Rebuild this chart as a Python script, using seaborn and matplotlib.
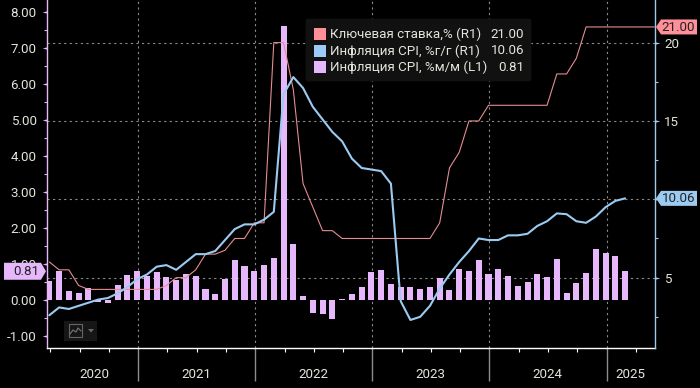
import numpy as np
import pandas as pd
import seaborn as sns
import matplotlib
matplotlib.use("Agg")
import matplotlib.pyplot as plt
from matplotlib.patches import Polygon, Rectangle, FancyBboxPatch
from matplotlib.lines import Line2D

# Monthly data, Mar 2020 - Feb 2025 (key rate is held forward to the axis edge)
cpi_mom = [0.55, 0.83, 0.27, 0.22, 0.35, -0.04, -0.07, 0.43, 0.71, 0.83,
           0.67, 0.78, 0.66, 0.58, 0.74, 0.69, 0.31, 0.17, 0.60, 1.11, 0.96, 0.82,
           0.99, 1.17, 7.61, 1.56, 0.12, -0.35, -0.39, -0.52, 0.05, 0.18, 0.37, 0.78,
           0.84, 0.46, 0.37, 0.38, 0.31, 0.37, 0.63, 0.28, 0.87, 0.83, 1.11, 0.73,
           0.86, 0.68, 0.39, 0.50, 0.74, 0.64, 1.14, 0.20, 0.48, 0.75, 1.43, 1.32,
           1.23, 0.81]
cpi_yoy = [2.6, 3.1, 3.0, 3.2, 3.4, 3.6, 3.7, 4.0, 4.4, 4.9,
           5.2, 5.7, 5.8, 5.5, 6.0, 6.5, 6.5, 6.7, 7.4, 8.1, 8.4, 8.4,
           8.7, 9.2, 16.7, 17.8, 17.1, 15.9, 15.1, 14.3, 13.7, 12.6, 12.0, 11.9,
           11.8, 11.0, 3.5, 2.3, 2.5, 3.2, 4.3, 5.2, 6.0, 6.7, 7.5, 7.4,
           7.4, 7.7, 7.7, 7.8, 8.3, 8.6, 9.1, 9.05, 8.6, 8.5, 8.9, 9.5,
           9.9, 10.06]
key_rate = [6.0, 5.5, 5.5, 4.5, 4.25, 4.25, 4.25, 4.25, 4.25, 4.25,
            4.25, 4.25, 4.5, 5.0, 5.0, 5.5, 6.5, 6.5, 6.75, 7.5, 7.5, 8.5,
            8.5, 20.0, 20.0, 17.0, 11.0, 9.5, 8.0, 8.0, 7.5, 7.5, 7.5, 7.5,
            7.5, 7.5, 7.5, 7.5, 7.5, 7.5, 8.5, 12.0, 13.0, 15.0, 15.0, 16.0,
            16.0, 16.0, 16.0, 16.0, 16.0, 16.0, 18.0, 18.0, 19.0, 21.0, 21.0, 21.0,
            21.0, 21.0, 21.0, 21.0, 21.0]
year_labels = ["2020", "2021", "2022", "2023", "2024", "2025"]
year_label_px = [94, 196, 313, 430, 547, 630]
legend_names = ["Ключевая ставка,% (R1)", "Инфляция CPI, %г/г (R1)", "Инфляция CPI, %м/м (L1)"]
left_ticks = [-1, 0, 1, 2, 3, 4, 5, 6, 7, 8]
right_ticks = [5, 10, 15, 20]
right_labels = ["5", "", "15", "20"]

C_BAR = "#E6B8FB"
C_BLUE = "#9CCBF2"
C_RED = "#E58C92"
C_TXT = "#E4E4DC"
FS = 9.6

sns.set_theme(style="dark", rc={"figure.facecolor": "black", "axes.facecolor": "black",
                                "savefig.facecolor": "black"})
plt.rcParams["font.family"] = ["Roboto", "DejaVu Sans"]

W, H = 700, 388
fig = plt.figure(figsize=(W / 100, H / 100), dpi=100)
rect = [47 / W, (H - 348) / H, 607.7 / W, 348 / H]
XLIM = (-0.24, 62.03)
LEFT_LIM = (-1.32, 8.34)
RIGHT_LIM = (0.51, 22.72)

ax_g = fig.add_axes(rect, zorder=1)
ax = fig.add_axes(rect, zorder=2)
ax2 = fig.add_axes(rect, zorder=3)
ax.patch.set_visible(False)
ax2.patch.set_visible(False)

idx_bar = np.arange(len(cpi_mom))
idx_rate = np.arange(len(key_rate))
df_bar = pd.DataFrame({"i": idx_bar, "v": cpi_mom})
df_yoy = pd.DataFrame({"i": idx_bar, "v": cpi_yoy})
df_rate = pd.DataFrame({"i": idx_rate, "v": key_rate})

sns.barplot(data=df_bar, x="i", y="v", native_scale=True, width=0.62, color=C_BAR,
            saturation=1, linewidth=0, ax=ax)
sns.lineplot(data=df_rate, x="i", y="v", color=C_RED, lw=0.8, ax=ax2, errorbar=None)
sns.lineplot(data=df_yoy, x="i", y="v", color=C_BLUE, lw=1.5, ax=ax2, errorbar=None)

sep_ticks = [9.1, 21.1, 33.1, 45.1, 57.1]
quarter_ticks = [t + 0.1 for t in range(0, 61, 3)]

# background grid
ax_g.set_xlim(XLIM)
ax_g.set_ylim(RIGHT_LIM)
ax_g.set_xticks(sep_ticks)
ax_g.set_yticks(right_ticks)
ax_g.grid(True, color="#8a8a8a", lw=0.8, ls=(0, (2, 3)))
ax_g.tick_params(left=False, bottom=False, labelleft=False, labelbottom=False)
for s in ax_g.spines.values():
    s.set_visible(False)

# left axis
ax.set_xlim(XLIM)
ax.set_ylim(LEFT_LIM)
ax.set_xlabel("")
ax.set_ylabel("")
ax.grid(False)
ax.set_yticks(left_ticks)
ax.set_yticklabels([f"{v:.2f}" for v in left_ticks], color=C_TXT, fontsize=FS)
ax.set_yticks(np.arange(-0.5, 8.5, 1.0), minor=True)
ax.tick_params(axis="y", which="major", left=True, length=0, pad=7.5)
ax.tick_params(axis="y", which="minor", left=True, length=2.5, width=0.8, color=C_BAR)
ax.set_xticks(sep_ticks)
ax.set_xticklabels([""] * len(sep_ticks))
ax.set_xticks(quarter_ticks, minor=True)
ax.tick_params(axis="x", which="major", bottom=True, length=24, width=1, color="#8c8c8c")
ax.tick_params(axis="x", which="minor", bottom=True, length=3, width=0.8, color="white")
for t in ax.yaxis.get_major_ticks():
    t.tick1line.set_marker([(0, 0.5), (-2, 0), (0, -0.5)])
    t.tick1line.set_markersize(7)
    t.tick1line.set_markerfacecolor(C_BAR)
    t.tick1line.set_markeredgewidth(0)
    t.tick1line.set_visible(True)
for n, s in ax.spines.items():
    s.set_visible(n in ("left", "bottom"))
ax.spines["left"].set_color(C_BAR)
ax.spines["bottom"].set_color("white")
ax.spines["left"].set_linewidth(1)
ax.spines["bottom"].set_linewidth(1)

# right axis
ax2.set_xlim(XLIM)
ax2.set_ylim(RIGHT_LIM)
ax2.set_xlabel("")
ax2.set_ylabel("")
ax2.grid(False)
ax2.set_xticks([])
ax2.yaxis.tick_right()
ax2.set_yticks(right_ticks)
ax2.set_yticklabels(right_labels, color=C_TXT, fontsize=FS)
ax2.set_yticks([2.5, 7.5, 12.5, 17.5], minor=True)
ax2.tick_params(axis="y", which="major", right=True, left=False, length=0, pad=7)
ax2.tick_params(axis="y", which="minor", right=True, left=False, length=2.5, width=0.8, color=C_BLUE)
for t in ax2.yaxis.get_major_ticks():
    t.tick2line.set_marker([(0, 0.5), (2, 0), (0, -0.5)])
    t.tick2line.set_markersize(7)
    t.tick2line.set_markerfacecolor(C_BLUE)
    t.tick2line.set_markeredgewidth(0)
    t.tick2line.set_visible(True)
for n, s in ax2.spines.items():
    s.set_visible(n == "right")
ax2.spines["right"].set_color(C_BLUE)
ax2.spines["right"].set_linewidth(1)


def fx(x):
    return x / W


def fy(y):
    return 1 - y / H


for lab, xp in zip(year_labels, year_label_px):
    fig.text(fx(xp), fy(374), lab, color=C_TXT, fontsize=FS, ha="center", va="center")


def poly(pts, color, z=10, **kw):
    fig.add_artist(Polygon([(fx(a), fy(b)) for a, b in pts], closed=True, transform=fig.transFigure,
                           facecolor=color, edgecolor="none", zorder=z, **kw))


def px_of(axis, value):
    return H - axis.transData.transform((0, value))[1]


# value tags on the axes
y = px_of(ax, cpi_mom[-1])
poly([(4, y - 8.5), (41, y - 8.5), (46, y), (41, y + 8.5), (4, y + 8.5)], C_BAR)
fig.text(fx(39.5), fy(y + 0.3), f"{cpi_mom[-1]:.2f}", color="#222222", fontsize=FS,
         ha="right", va="center", zorder=11)

y = px_of(ax2, key_rate[-1])
poly([(656, y), (661, y - 7.5), (697, y - 7.5), (697, y + 7.5), (661, y + 7.5)], "#FF8F98")
fig.text(fx(695), fy(y + 0.3), f"{key_rate[-1]:.2f}", color="#222222", fontsize=FS,
         ha="right", va="center", zorder=11)

y = px_of(ax2, cpi_yoy[-1])
poly([(656, y), (661, y - 7.5), (697, y - 7.5), (697, y + 7.5), (661, y + 7.5)], C_BLUE)
fig.text(fx(695), fy(y + 0.3), f"{cpi_yoy[-1]:.2f}", color="#222222", fontsize=FS,
         ha="right", va="center", zorder=11)

# legend table
fig.add_artist(FancyBboxPatch((fx(307), fy(80)), fx(223), fy(0) - fy(60),
                              boxstyle="round,pad=0,rounding_size=0.002",
                              transform=fig.transFigure, facecolor="#111111", edgecolor="#111111",
                              lw=2, zorder=8))
legend_vals = [key_rate[-1], cpi_yoy[-1], cpi_mom[-1]]
for yp, name, val, col in zip([34, 50.5, 67], legend_names, legend_vals, ["#FF8F98", "#9CCBF9", C_BAR]):
    fig.add_artist(Rectangle((fx(314), fy(yp + 6)), fx(12), fy(0) - fy(12), transform=fig.transFigure,
                             facecolor=col, edgecolor="none", zorder=9))
    fig.text(fx(330), fy(yp + 0.5), name, color=C_TXT, fontsize=FS, ha="left", va="center", zorder=9)
    fig.text(fx(524), fy(yp + 0.5), f"{val:.2f}", color=C_TXT, fontsize=FS, ha="right", va="center", zorder=9)

# small chart-type widget
fig.add_artist(Rectangle((fx(64), fy(341)), fx(33), fy(0) - fy(20), transform=fig.transFigure,
                         facecolor="#161616", edgecolor="none", zorder=9))
fig.add_artist(Rectangle((fx(69), fy(337)), fx(13), fy(0) - fy(13), transform=fig.transFigure,
                         facecolor="none", edgecolor="#666666", lw=0.8, zorder=10))
fig.add_artist(Line2D([fx(v) for v in (70, 73, 76, 78, 81)], [fy(v) for v in (334, 330, 332, 328, 331)],
                      transform=fig.transFigure, color="#777777", lw=0.8, zorder=10))
poly([(88, 329), (94, 329), (91, 332.5)], "#666666")

fig.savefig("out.png", dpi=100, facecolor="black")
